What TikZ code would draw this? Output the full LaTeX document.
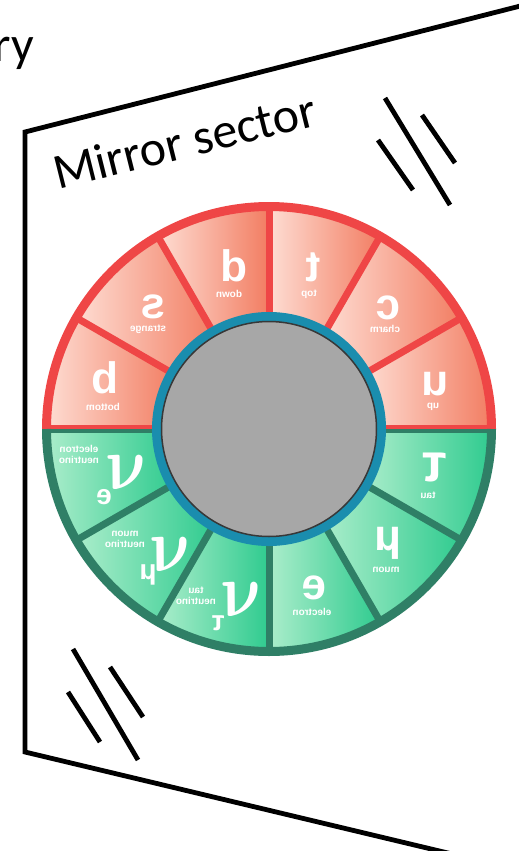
\documentclass[tikz,border=0pt]{standalone}
\usepackage{fontspec}
\usepackage{graphicx}
\usepackage{amsmath}
\setmainfont{Carlito}
\newfontfamily\arialf{Liberation Sans}
\definecolor{ringred}{HTML}{EF4646}
\definecolor{secl}{HTML}{FEDDD3}
\definecolor{secd}{HTML}{F27D62}
\definecolor{ringgrn}{HTML}{2F7F66}
\definecolor{grnl}{HTML}{ABEDCB}
\definecolor{grnd}{HTML}{2FCB8F}
\definecolor{ringblue}{HTML}{1A8DAE}
\definecolor{coregray}{HTML}{A7A7A7}
\definecolor{coreline}{HTML}{383838}
\begin{document}
\begin{tikzpicture}[x=1pt,y=1pt,
  frame/.style={line width=4.8pt, black, line join=miter},
  hashline/.style={line width=4.8pt, black, line cap=butt},
  redsec/.style={left color=secl, right color=secd},
  grnsec/.style={left color=grnl, right color=grnd},
  bigl/.style={text=white, font=\arialf\bfseries\fontsize{44}{44}\selectfont, inner sep=0pt},
  greekl/.style={text=white, font=\arialf\bfseries\fontsize{54}{54}\selectfont, inner sep=0pt},
  smalll/.style={text=white, font=\arialf\bfseries\fontsize{10}{11}\selectfont, inner sep=0pt, align=center},
  subl/.style={text=white, font=\arialf\bfseries\fontsize{28}{28}\selectfont, inner sep=0pt},
  nul/.style={text=white, inner sep=0pt, xslant=-0.22, transform shape},
  bigtext/.style={font=\fontsize{50}{60}\selectfont, inner sep=0pt, text=black}
]
\useasboundingbox (0,-851) rectangle (519,0);
\fill[white] (0,-851) rectangle (519,0);
\begin{scope}
  \clip (0,-851) rectangle (519,0);
  \coordinate (TL) at (25,-132);
  \coordinate (TR) at (540,-1);
  \coordinate (BL) at (25,-752);
  \coordinate (BR) at (540,-875);
  \draw[frame] (TR) -- (TL) -- (BL) -- (BR);
\end{scope}
% hash marks
\coordinate (h1a) at (378,-140); \coordinate (h1b) at (413,-190);
\coordinate (h2a) at (385,-98);  \coordinate (h2b) at (450,-205);
\coordinate (h3a) at (422,-115); \coordinate (h3b) at (455,-163);
\draw[hashline] (h1a) -- (h1b);
\draw[hashline] (h2a) -- (h2b);
\draw[hashline] (h3a) -- (h3b);
\coordinate (k1a) at (68,-692);  \coordinate (k1b) at (100,-742);
\coordinate (k2a) at (73,-649);  \coordinate (k2b) at (138,-760);
\coordinate (k3a) at (110,-667); \coordinate (k3b) at (143,-717);
\draw[hashline] (k1a) -- (k1b);
\draw[hashline] (k2a) -- (k2b);
\draw[hashline] (k3a) -- (k3b);
% texts
\node[bigtext, anchor=base east] (ry) at (34,-62) {ry};
\node[bigtext, anchor=base west, rotate=14] (ms) at (58,-190) {Mirror sector};
% wheel
\begin{scope}[shift={(269,-429)}]
  \foreach \a in {0,30,...,150}
    \shade[redsec] (\a:108) -- (\a:223) arc[start angle=\a, delta angle=30, radius=223] -- ({\a+30}:108) arc[start angle=\a+30, delta angle=-30, radius=108] -- cycle;
  \foreach \a in {180,210,...,330}
    \shade[grnsec] (\a:108) -- (\a:223) arc[start angle=\a, delta angle=30, radius=223] -- ({\a+30}:108) arc[start angle=\a+30, delta angle=-30, radius=108] -- cycle;
  \foreach \a in {30,60,...,150}
    \draw[line width=7pt, ringred] (\a:110) -- (\a:224);
  \foreach \a in {210,240,...,330}
    \draw[line width=7pt, ringgrn] (\a:110) -- (\a:224);
  \fill[ringred] (110,0) rectangle (226,4);
  \fill[ringred] (-226,0) rectangle (-110,4);
  \fill[ringgrn] (110,-4) rectangle (226,0);
  \fill[ringgrn] (-226,-4) rectangle (-110,0);
  \draw[line width=9pt, ringred] (0:222.5) arc[start angle=0, end angle=180, radius=222.5];
  \draw[line width=9pt, ringgrn] (180:222.5) arc[start angle=180, end angle=360, radius=222.5];
  \fill[ringblue] (0,0) circle[radius=117];
  \filldraw[fill=coregray, draw=coreline, line width=1.5pt] (0,0) circle[radius=107.5];
\end{scope}
% quark letters (mirrored)
\node[bigl] (qd) at (234,-266) {\reflectbox{d}};
\node[bigl] (qs) at (153,-307) {\reflectbox{s}};
\node[bigl] (qb) at (105,-378) {\reflectbox{b}};
\node[bigl] (qt) at (313,-267) {\reflectbox{t}};
\node[bigl] (qc) at (388,-308) {\reflectbox{c}};
\node[bigl] (qu) at (435,-384) {\reflectbox{u}};
\node[greekl] (ltau) at (434,-468) {\reflectbox{τ}};
\node[bigl] (lmu) at (388,-543) {\reflectbox{μ}};
\node[bigl] (le) at (314,-588) {\reflectbox{e}};
% small labels
\node[smalll] (tdown) at (229,-294) {\reflectbox{down}};
\node[smalll] (tstr) at (148,-329) {\reflectbox{strange}};
\node[smalll] (tbot) at (103,-407) {\reflectbox{bottom}};
\node[smalll] (ttop) at (309,-294) {\reflectbox{top}};
\node[smalll] (tcharm) at (385,-329) {\reflectbox{charm}};
\node[smalll] (tup) at (433,-407) {\reflectbox{up}};
\node[smalll] (ttau) at (428,-495) {\reflectbox{tau}};
\node[smalll] (tmuon) at (386,-570) {\reflectbox{muon}};
\node[smalll] (telec) at (312,-612) {\reflectbox{electron}};
\node[smalll] (tnue) at (79,-454) {\reflectbox{electron}\\\reflectbox{neutrino}};
\node[smalll] (tnumu) at (125,-539) {\reflectbox{muon}\\\reflectbox{neutrino}};
\node[smalll] (tnutau) at (196,-596) {\reflectbox{tau}\\\reflectbox{neutrino}};
% neutrinos
\node[nul] (nue) at (128,-473) {\scalebox{6.5}[7.6]{$\boldsymbol{\nu}$}};
\node[nul] (numu) at (172,-555) {\scalebox{6.5}[7.6]{$\boldsymbol{\nu}$}};
\node[nul] (nutau) at (243,-600) {\scalebox{6.5}[7.6]{$\boldsymbol{\nu}$}};
\node[subl] (se) at (104,-497) {\reflectbox{e}};
\node[subl] (smu) at (148,-575) {\reflectbox{μ}};
\node[subl] (stau) at (218,-623) {\reflectbox{τ}};
\end{tikzpicture}
\end{document}
